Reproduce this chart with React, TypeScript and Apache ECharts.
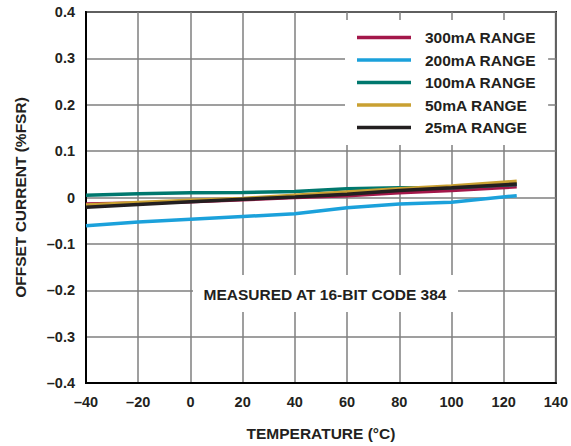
import React, { useEffect, useRef } from "react";
import * as echarts from "echarts";

const temps = [-40, -20, 0, 20, 40, 60, 80, 100, 125];
const range300 = [-0.014, -0.012, -0.009, -0.005, 0.0, 0.004, 0.010, 0.015, 0.023];
const range200 = [-0.061, -0.053, -0.047, -0.041, -0.035, -0.022, -0.014, -0.010, 0.004];
const range100 = [0.005, 0.008, 0.010, 0.011, 0.013, 0.019, 0.021, 0.021, 0.028];
const range50 = [-0.016, -0.011, -0.006, -0.002, 0.005, 0.012, 0.019, 0.025, 0.035];
const range25 = [-0.021, -0.015, -0.009, -0.004, 0.001, 0.007, 0.015, 0.021, 0.029];

const seriesNames = ["300mA RANGE", "200mA RANGE", "100mA RANGE", "50mA RANGE", "25mA RANGE"];
const seriesColors = ["#A3174A", "#1BA1DB", "#00786E", "#C9A032", "#231F20"];
const seriesValues = [range300, range200, range100, range50, range25];

const annotation = "MEASURED AT 16-BIT CODE 384";
const FONT = '"Liberation Sans", Arial, Helvetica, sans-serif';

const dash = (s: string) => s.replace("-", "\u2013");

export default function App() {
  const ref = useRef<HTMLDivElement>(null);
  useEffect(() => {
    document.body.style.margin = "0";
    const chart = echarts.init(ref.current!, undefined, { renderer: "svg" });
    chart.setOption({
      animation: false,
      backgroundColor: "#fff",
      textStyle: { fontFamily: FONT },
      grid: {
        left: 86,
        right: 14,
        top: 12,
        bottom: 63,
        show: true,
        borderColor: "#000",
        borderWidth: 2,
        backgroundColor: "transparent",
      },
      xAxis: {
        type: "value",
        min: -40,
        max: 140,
        interval: 20,
        name: "TEMPERATURE (°C)",
        nameLocation: "middle",
        nameGap: 42,
        nameTextStyle: { fontFamily: FONT, fontWeight: "bold", fontSize: 15.5, color: "#231F20" },
        axisLine: { onZero: false, lineStyle: { color: "#000", width: 2 } },
        axisTick: { show: false },
        axisLabel: {
          margin: 11,
          fontFamily: FONT,
          fontWeight: "bold",
          fontSize: 14.5,
          color: "#231F20",
          formatter: (v: number) => dash(String(v)),
        },
        splitLine: { show: true, lineStyle: { color: "#7f7f7f", width: 1.5 } },
      },
      yAxis: {
        type: "value",
        min: -0.4,
        max: 0.4,
        interval: 0.1,
        name: "OFFSET CURRENT (%FSR)",
        nameLocation: "middle",
        nameGap: 58,
        nameTextStyle: { fontFamily: FONT, fontWeight: "bold", fontSize: 15.5, color: "#231F20" },
        axisLine: { onZero: false, lineStyle: { color: "#000", width: 2 } },
        axisTick: { show: false },
        axisLabel: {
          margin: 11,
          fontFamily: FONT,
          fontWeight: "bold",
          fontSize: 14.5,
          color: "#231F20",
          formatter: (v: number) => (Math.abs(v) < 1e-9 ? "0" : dash(v.toFixed(1))),
        },
        splitLine: { show: true, lineStyle: { color: "#7f7f7f", width: 1.5 } },
      },
      legend: {
        orient: "vertical",
        left: 345,
        top: 20,
        backgroundColor: "#fff",
        padding: [9.5, 12, 9.5, 12],
        itemWidth: 54,
        itemHeight: 3.5,
        itemGap: 6.5,
        icon: "rect",
        data: seriesNames,
        textStyle: {
          fontFamily: FONT,
          fontWeight: "bold",
          fontSize: 15.5,
          lineHeight: 16,
          color: "#231F20",
          padding: [0, 0, 0, 9],
        },
      },
      graphic: [
        {
          type: "rect",
          shape: { x: 193, y: 275, width: 265, height: 37 },
          style: { fill: "#fff" },
          z: 50,
        },
        {
          type: "text",
          x: 325,
          y: 294,
          z: 51,
          style: {
            text: annotation,
            fill: "#231F20",
            font: `bold 15.5px ${FONT}`,
            align: "center",
            verticalAlign: "middle",
          },
        },
      ],
      series: seriesNames.map((name, i) => ({
        name,
        type: "line",
        showSymbol: false,
        symbol: "none",
        color: seriesColors[i],
        lineStyle: { color: seriesColors[i], width: 3.5 },
        data: temps.map((t, j) => [t, seriesValues[i][j]]),
      })),
    });
    return () => chart.dispose();
  }, []);
  return <div ref={ref} style={{ width: 571, height: 446 }} />;
}
